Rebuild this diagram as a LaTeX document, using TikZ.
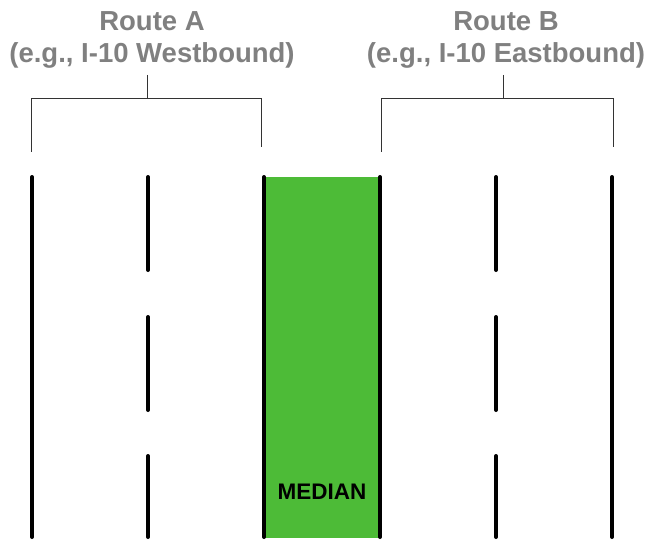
\documentclass[tikz,border=0pt]{standalone}
\usepackage{fontspec}
\setmainfont{Liberation Sans}
\definecolor{routegray}{RGB}{128,128,128}
\definecolor{medgreen}{RGB}{77,187,55}
\begin{document}
\begin{tikzpicture}[x=1pt, y=-1pt,
  route/.style={font=\bfseries\fontsize{27.5}{32}\selectfont, text=routegray, align=center, inner sep=0pt, anchor=north},
  lane/.style={line width=4pt, line cap=round},
  brace/.style={draw=black!80, line width=1pt},
  note/.style={font=\bfseries\fontsize{22.5}{26}\selectfont}
]
\useasboundingbox (0,0) rectangle (652,540);
% median strip
\fill[medgreen] (264,177) rectangle (380,538);
\node[note] (med) at (322,492) {MEDIAN};
% solid edge lines
\foreach \x in {32,264,380,612} {
  \draw[lane] (\x,177) -- (\x,537);
}
% broken lane lines
\foreach \x in {148,496} {
  \foreach \a/\b in {177/270,317/410,456/537} {
    \draw[lane] (\x,\a) -- (\x,\b);
  }
}
% route labels and brackets
\node[route] (ra) at (152,11) {Route A\\(e.g., I-10 Westbound)};
\node[route] (rb) at (506,11) {Route B\\(e.g., I-10 Eastbound)};
\coordinate (ra stem) at (147,75);
\coordinate (rb stem) at (503,75);
\coordinate (ra left) at (31,152);
\coordinate (ra right) at (261,147);
\coordinate (rb left) at (381,152);
\coordinate (rb right) at (613,147);
\draw[brace] (ra stem) -- (147,99);
\draw[brace] (ra left) |- (ra right |- 0,99) -- (ra right);
\draw[brace] (rb stem) -- (503,99);
\draw[brace] (rb left) |- (rb right |- 0,99) -- (rb right);
\end{tikzpicture}
\end{document}
